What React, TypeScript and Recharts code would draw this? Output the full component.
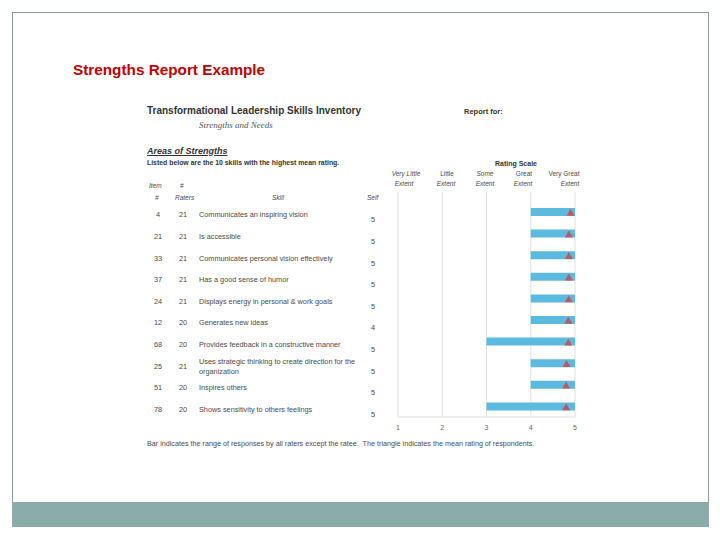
import React from "react";
import { ComposedChart, Bar, Line, XAxis, YAxis, CartesianGrid } from "recharts";

// table columns, one entry per skill row
const items = [4, 21, 33, 37, 24, 12, 68, 25, 51, 78];
const raters = [21, 21, 21, 21, 21, 20, 20, 21, 20, 20];
const skills = [
  "Communicates an inspiring vision",
  "Is accessible",
  "Communicates personal vision effectively",
  "Has a good sense of humor",
  "Displays energy in personal & work goals",
  "Generates new ideas",
  "Provides feedback in a constructive manner",
  "Uses strategic thinking to create direction for the organization",
  "Inspires others",
  "Shows sensitivity to others feelings",
];
const selfRatings = [5, 5, 5, 5, 5, 4, 5, 5, 5, 5];
// range of responses by raters (min, max) and mean rating
const rangeMin = [4, 4, 4, 4, 4, 4, 3, 4, 4, 3];
const rangeMax = [5, 5, 5, 5, 5, 5, 5, 5, 5, 5];
const means = [4.9, 4.86, 4.86, 4.86, 4.86, 4.85, 4.85, 4.81, 4.8, 4.8];
const scaleTicks = [1, 2, 3, 4, 5];

const data = skills.map((s, i) => ({
  skill: s,
  range: [rangeMin[i], rangeMax[i]],
  mean: means[i],
}));

const FONT = "'Liberation Sans', Arial, sans-serif";
const TXT = "#4a4a4a";

const wrap = (s: string, max: number) => {
  const lines: string[] = [];
  let cur = "";
  s.split(" ").forEach((w) => {
    if ((cur + " " + w).trim().length > max) {
      lines.push(cur);
      cur = w;
    } else cur = (cur + " " + w).trim();
  });
  if (cur) lines.push(cur);
  return lines;
};

const RowTick = (props: any) => {
  const { y, payload } = props;
  const i = skills.indexOf(payload.value);
  const lines = wrap(payload.value, 52);
  const ty = y + 3;
  return (
    <g fontFamily={FONT} fontSize={7.3}>
      <text x={18} y={ty} fill={TXT} textAnchor="middle" dominantBaseline="central">{items[i]}</text>
      <text x={43} y={ty} fill={TXT} textAnchor="middle" dominantBaseline="central">{raters[i]}</text>
      {lines.map((l, k) => (
        <text key={k} x={59} y={ty + (k - (lines.length - 1) / 2) * 10} fill={TXT} dominantBaseline="central">
          {l}
        </text>
      ))}
      <text x={233} y={y + 8} fill={TXT} textAnchor="middle" dominantBaseline="central">{selfRatings[i]}</text>
    </g>
  );
};

const Triangle = (props: any) => {
  const { cx, cy } = props;
  if (cx == null || cy == null) return null;
  return <path d={`M${cx},${cy - 3} L${cx + 4},${cy + 4} L${cx - 4},${cy + 4} Z`} fill="#c4505a" opacity={0.9} />;
};

const T = (p: { x: number; y: number; s: number; children: React.ReactNode; st?: React.CSSProperties; c?: boolean }) => (
  <div
    style={{
      position: "absolute",
      left: p.c ? p.x - 100 : p.x,
      width: p.c ? 200 : undefined,
      textAlign: p.c ? "center" : "left",
      top: p.y - p.s / 2,
      fontSize: p.s,
      lineHeight: 1,
      fontFamily: FONT,
      color: TXT,
      whiteSpace: "nowrap",
      ...p.st,
    }}
  >
    {p.children}
  </div>
);

export default function App() {
  const it: React.CSSProperties = { fontStyle: "italic" };
  return (
    <div style={{ position: "fixed", left: 0, top: 0, width: 720, height: 540, background: "#fff", overflow: "hidden" }}>
      <div style={{ position: "absolute", left: 12, top: 12, width: 695, height: 514, borderTop: "1px solid #8c9a9a", borderLeft: "1px solid #8c9a9a", borderRight: "1px solid #8c9a9a" }} />
      <div style={{ position: "absolute", left: 12, top: 502, width: 697, height: 25, background: "#8cabab" }} />

      <T x={73} y={70} s={15.3} st={{ color: "#c00000", fontWeight: "bold" }}>Strengths Report Example</T>

      <T x={147} y={111} s={10} st={{ fontWeight: "bold", color: "#333" }}>Transformational Leadership Skills Inventory</T>
      <T x={199} y={125} s={9} st={{ fontStyle: "italic", fontFamily: "'Liberation Serif', serif", color: "#555" }}>Strengths and Needs</T>
      <T x={464} y={112} s={7.5} st={{ fontWeight: "bold", color: "#333" }}>Report for:</T>
      <T x={147} y={151} s={9} st={{ fontWeight: "bold", fontStyle: "italic", textDecoration: "underline", color: "#333" }}>Areas of Strengths</T>
      <T x={147} y={163} s={6.9} st={{ fontWeight: "bold", color: "#333" }}>Listed below are the 10 skills with the highest mean rating.</T>

      <T x={149} y={186} s={6.5} st={it}>Item</T>
      <T x={180} y={186} s={6.5} st={it}>#</T>
      <T x={155} y={198} s={6.5} st={it}>#</T>
      <T x={175} y={198} s={6.5} st={it}>Raters</T>
      <T x={272} y={198} s={6.5} st={it}>Skill</T>
      <T x={367} y={198} s={6.5} st={it}>Self</T>

      <T x={516} y={163} s={7} c st={{ fontWeight: "bold", color: "#333" }}>Rating Scale</T>
      <T x={406} y={174} s={6.5} c st={it}>Very Little</T>
      <T x={404} y={184} s={6.5} c st={it}>Extent</T>
      <T x={447} y={174} s={6.5} c>Little</T>
      <T x={446} y={184} s={6.5} c st={it}>Extent</T>
      <T x={485} y={174} s={6.5} c st={it}>Some</T>
      <T x={485} y={184} s={6.5} c st={it}>Extent</T>
      <T x={524} y={174} s={6.5} c>Great</T>
      <T x={523} y={184} s={6.5} c st={it}>Extent</T>
      <T x={564} y={174} s={6.5} c>Very Great</T>
      <T x={570} y={184} s={6.5} c st={it}>Extent</T>

      <div style={{ position: "absolute", left: 140, top: 185 }}>
        <ComposedChart
          width={450}
          height={257}
          data={data}
          layout="vertical"
          margin={{ top: 7, right: 15, bottom: 5, left: 0 }}
        >
          <CartesianGrid horizontal={false} stroke="#e0e0e0" />
          <XAxis
            type="number"
            domain={[1, 5]}
            ticks={scaleTicks}
            tickLine={false}
            axisLine={{ stroke: "#e0e0e0" }}
            tick={{ fontSize: 7, fill: "#666", fontFamily: FONT }}
            height={20}
          />
          <YAxis
            type="category"
            dataKey="skill"
            width={258}
            tickLine={false}
            axisLine={false}
            padding={{ top: 9, bottom: 0 }}
            tick={<RowTick />}
            interval={0}
          />
          <Bar dataKey="range" fill="#5cbadf" barSize={8} isAnimationActive={false} />
          <Line dataKey="mean" stroke="none" dot={<Triangle />} activeDot={false} isAnimationActive={false} />
        </ComposedChart>
      </div>

      <T x={147} y={444} s={7.2}>
        Bar indicates the range of responses by all raters except the ratee.&nbsp; The triangle indicates the mean rating of respondents.
      </T>
    </div>
  );
}
